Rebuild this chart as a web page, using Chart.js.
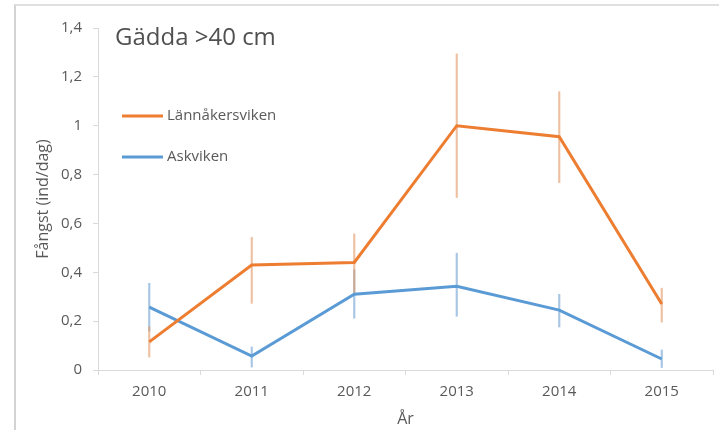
<!DOCTYPE html>
<html>
<head>
<meta charset="utf-8">
<script src="https://cdn.jsdelivr.net/npm/chart.js@4.4.0/dist/chart.umd.min.js"></script>
<style>
  html, body { margin: 0; padding: 0; background: #fff; }
  #wrap { position: relative; width: 719px; height: 430px; overflow: hidden; }
  #frame { position: absolute; left: 14px; top: 4px; right: 0; bottom: 0; border-left: 2px solid #d3d3d3; border-top: 2px solid #e0e0e0; }
  canvas { position: absolute; left: 0; top: 0; }
</style>
</head>
<body>
<div id="wrap"><div id="frame"></div><canvas id="chart" width="719" height="430"></canvas></div>
<script>
const chartTitle = 'Gädda >40 cm';
const years = ['2010', '2011', '2012', '2013', '2014', '2015'];

// Lännåkersviken: medel och felstaplar
const lannakersviken     = [0.115, 0.43, 0.44, 1.0, 0.955, 0.27];
const lannakersvikenLow  = [0.053, 0.273, 0.317, 0.706, 0.767, 0.196];
const lannakersvikenHigh = [0.177, 0.543, 0.557, 1.294, 1.139, 0.335];

// Askviken
const askviken     = [0.257, 0.057, 0.31, 0.343, 0.245, 0.045];
const askvikenLow  = [0.159, 0.012, 0.212, 0.22, 0.176, 0.010];
const askvikenHigh = [0.355, 0.094, 0.41, 0.478, 0.31, 0.082];

const yTicks = [0, 0.2, 0.4, 0.6, 0.8, 1, 1.2, 1.4];

const ORANGE = '#ED7D31';
const BLUE = '#5B9BD5';
const GREY_TEXT = '#595959';
const AXIS = '#d9d9d9';
const FONT = '"Open Sans", "Noto Sans", sans-serif';

const fmt = v => String(Math.round(v * 10) / 10).replace('.', ',');

// title + legend drawn inside the plot area
const insideLegend = {
    id: 'insideLegend',
    afterDatasetsDraw(chart) {
        const { ctx, chartArea } = chart;
        ctx.save();
        ctx.font = '15px ' + FONT;
        ctx.textBaseline = 'middle';
        chart.data.datasets.filter(d => d.type === 'line').forEach((ds, i) => {
            const x = chartArea.left + 24;
            const y = chartArea.top + 88 + i * 41;
            ctx.strokeStyle = ds.borderColor;
            ctx.lineWidth = 3;
            ctx.beginPath(); ctx.moveTo(x, y); ctx.lineTo(x + 41, y); ctx.stroke();
            ctx.fillStyle = GREY_TEXT;
            ctx.fillText(ds.label, x + 45, y);
        });
        ctx.font = '24px ' + FONT;
        ctx.fillStyle = '#505050';
        ctx.textBaseline = 'alphabetic';
        ctx.fillText(chartTitle, chartArea.left + 17, chartArea.top + 17);
        ctx.restore();
    }
};

const pairs = (lo, hi) => lo.map((v, i) => [v, hi[i]]);

new Chart(document.getElementById('chart'), {
    data: {
        labels: years,
        datasets: [
            { type: 'line', label: 'Lännåkersviken', data: lannakersviken, borderColor: ORANGE, borderWidth: 3, pointRadius: 0, tension: 0, order: 1 },
            { type: 'line', label: 'Askviken', data: askviken, borderColor: BLUE, borderWidth: 3, pointRadius: 0, tension: 0, order: 1 },
            // error bars as thin floating bars
            { type: 'bar', label: 'fel L', data: pairs(lannakersvikenLow, lannakersvikenHigh), backgroundColor: 'rgba(226,150,100,0.6)', barThickness: 1.5, grouped: false, order: 2 },
            { type: 'bar', label: 'fel A', data: pairs(askvikenLow, askvikenHigh), backgroundColor: 'rgba(110,160,210,0.6)', barThickness: 1.5, grouped: false, order: 2 },
        ],
    },
    options: {
        responsive: false, animation: false, devicePixelRatio: 1,
        layout: { padding: { left: 0, right: 6, top: 28, bottom: 0 } },
        plugins: { legend: { display: false }, tooltip: { enabled: false } },
        scales: {
            x: {
                type: 'category', offset: true,
                afterFit: s => { s.height = 60; },
                grid: { offset: true, drawOnChartArea: false, drawTicks: true, tickLength: 5, color: AXIS },
                border: { display: true, color: AXIS },
                ticks: { color: GREY_TEXT, font: { family: FONT, size: 15 }, padding: 8 },
                title: { display: true, text: 'År', color: GREY_TEXT, font: { family: FONT, size: 16 }, padding: { top: 0, bottom: 1 } },
            },
            y: {
                min: 0, max: 1.4,
                afterFit: s => { s.width = 98; },
                afterBuildTicks: s => { s.ticks = yTicks.map(v => ({ value: v })); },
                grid: { drawOnChartArea: false, drawTicks: true, tickLength: 5, color: AXIS },
                border: { display: true, color: AXIS },
                ticks: { color: GREY_TEXT, font: { family: FONT, size: 15 }, padding: 11, callback: v => fmt(v) },
                title: { display: true, text: 'Fångst (ind/dag)', color: GREY_TEXT, font: { family: FONT, size: 16 }, padding: { top: 34, bottom: 0 } },
            },
        },
    },
    plugins: [insideLegend],
});
</script>
</body>
</html>
